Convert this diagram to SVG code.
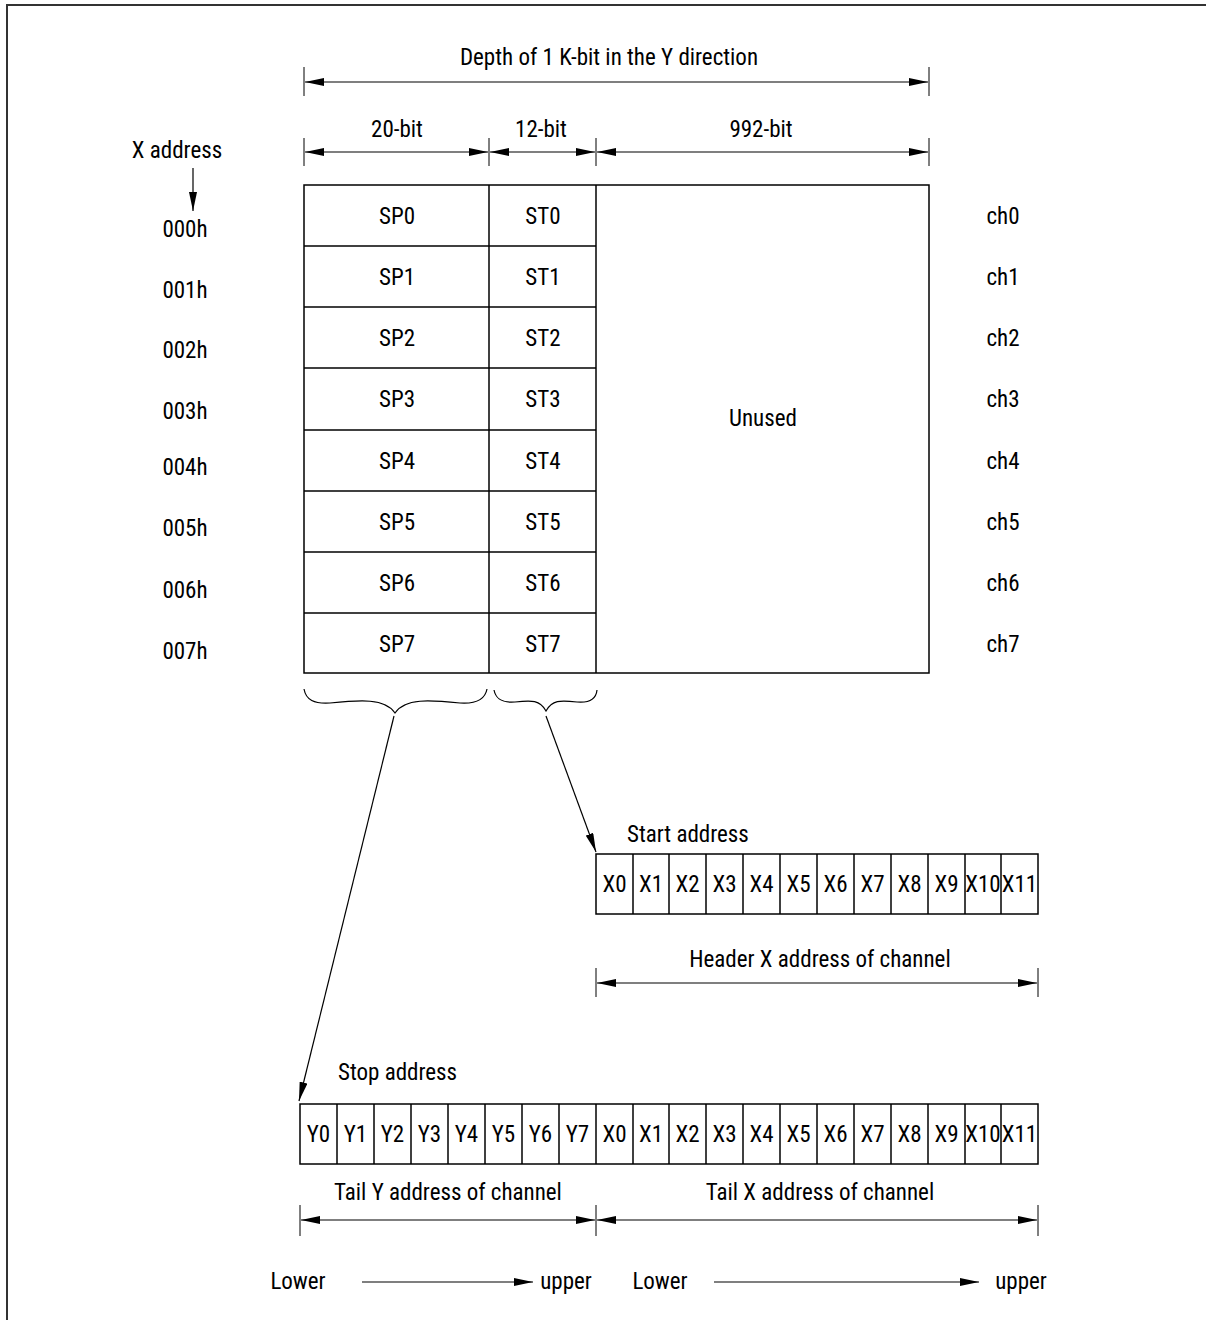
<svg xmlns="http://www.w3.org/2000/svg" width="1206" height="1320" viewBox="0 0 1206 1320">
<defs>
<marker id="ah" viewBox="0 0 19 8" refX="19" refY="4" markerWidth="19" markerHeight="8" markerUnits="userSpaceOnUse" orient="auto-start-reverse"><path d="M0,0 L19,4 L0,8 z" fill="#000"/></marker>
<style>
text{font-family:"Liberation Sans Narrow","Roboto Condensed","DejaVu Sans Condensed",sans-serif;font-size:23px;fill:#000;text-anchor:middle;dominant-baseline:central}
.box{fill:#fff;stroke:#000;stroke-width:1.5}
.ln{stroke:#000;stroke-width:1.2;fill:none}
.dim{stroke:#000;stroke-width:1.2;fill:none;marker-start:url(#ah);marker-end:url(#ah)}
.arr{stroke:#000;stroke-width:1.2;fill:none;marker-end:url(#ah)}
.tk{stroke:#000;stroke-width:1}
.st{text-anchor:start}
</style>
</defs>
<rect width="1206" height="1320" fill="#fff"/>
<path d="M7,1320 V5 H1206" fill="none" stroke="#333" stroke-width="2"/>

<g id="dimensions">
<text x="609" y="57">Depth of 1 K-bit in the Y direction</text>
<line class="tk" x1="304" y1="67" x2="304" y2="96"/>
<line class="tk" x1="929" y1="67" x2="929" y2="96"/>
<line class="dim" x1="305" y1="82" x2="928" y2="82"/>
<text x="397" y="129">20-bit</text>
<text x="541" y="129">12-bit</text>
<text x="761" y="129">992-bit</text>
<line class="tk" x1="304" y1="138" x2="304" y2="166"/>
<line class="tk" x1="489" y1="138" x2="489" y2="166"/>
<line class="tk" x1="596" y1="138" x2="596" y2="166"/>
<line class="tk" x1="929" y1="138" x2="929" y2="166"/>
<line class="dim" x1="305" y1="152" x2="488" y2="152"/>
<line class="dim" x1="490" y1="152" x2="595" y2="152"/>
<line class="dim" x1="597" y1="152" x2="928" y2="152"/>
</g>

<g id="x-address">
<text x="177" y="150">X address</text>
<line class="arr" x1="193" y1="168" x2="193" y2="211"/>
<text x="185" y="229">000h</text>
<text x="185" y="290">001h</text>
<text x="185" y="350">002h</text>
<text x="185" y="411">003h</text>
<text x="185" y="467">004h</text>
<text x="185" y="528">005h</text>
<text x="185" y="590">006h</text>
<text x="185" y="651">007h</text>
</g>

<g id="table">
<rect class="box" x="304" y="185" width="625" height="488"/>
<line class="ln" x1="489" y1="185" x2="489" y2="673" style="stroke-width:1.5"/>
<line class="ln" x1="596" y1="185" x2="596" y2="673" style="stroke-width:1.5"/>
<g class="ln" style="stroke-width:1.5">
<line x1="304" y1="246" x2="596" y2="246"/>
<line x1="304" y1="307" x2="596" y2="307"/>
<line x1="304" y1="368" x2="596" y2="368"/>
<line x1="304" y1="430" x2="596" y2="430"/>
<line x1="304" y1="491" x2="596" y2="491"/>
<line x1="304" y1="552" x2="596" y2="552"/>
<line x1="304" y1="613" x2="596" y2="613"/>
</g>
<text x="397" y="216">SP0</text><text x="543" y="216">ST0</text>
<text x="397" y="277">SP1</text><text x="543" y="277">ST1</text>
<text x="397" y="338">SP2</text><text x="543" y="338">ST2</text>
<text x="397" y="399">SP3</text><text x="543" y="399">ST3</text>
<text x="397" y="461">SP4</text><text x="543" y="461">ST4</text>
<text x="397" y="522">SP5</text><text x="543" y="522">ST5</text>
<text x="397" y="583">SP6</text><text x="543" y="583">ST6</text>
<text x="397" y="644">SP7</text><text x="543" y="644">ST7</text>
<text x="763" y="418">Unused</text>
</g>

<g id="channels">
<text x="1003" y="216">ch0</text>
<text x="1003" y="277">ch1</text>
<text x="1003" y="338">ch2</text>
<text x="1003" y="399">ch3</text>
<text x="1003" y="461">ch4</text>
<text x="1003" y="522">ch5</text>
<text x="1003" y="583">ch6</text>
<text x="1003" y="644">ch7</text>
</g>

<g id="braces">
<path class="ln" d="M304,689 C306,700 314,704 330,703 C360,700 385,698 395,713 C405,698 430,700 460,703 C476,704 485,700 487,689"/>
<path class="ln" d="M494,690 C496,700 503,703 515,702 C532,700 540,700 546,711 C552,700 560,700 577,702 C589,703 596,700 597,690"/>
</g>

<g id="connectors">
<line class="arr" x1="394" y1="716" x2="299" y2="1101"/>
<line class="arr" x1="546" y1="716" x2="596" y2="852"/>
</g>

<g id="start-address">
<text class="st" x="627" y="834">Start address</text>
<rect class="box" x="596" y="854" width="442" height="60"/>
<g class="ln" style="stroke-width:1.5">
<line x1="633" y1="854" x2="633" y2="914"/><line x1="669" y1="854" x2="669" y2="914"/>
<line x1="706" y1="854" x2="706" y2="914"/><line x1="743" y1="854" x2="743" y2="914"/>
<line x1="780" y1="854" x2="780" y2="914"/><line x1="817" y1="854" x2="817" y2="914"/>
<line x1="854" y1="854" x2="854" y2="914"/><line x1="891" y1="854" x2="891" y2="914"/>
<line x1="928" y1="854" x2="928" y2="914"/><line x1="965" y1="854" x2="965" y2="914"/>
<line x1="1001" y1="854" x2="1001" y2="914"/>
</g>
<text x="614.5" y="884">X0</text><text x="651" y="884">X1</text><text x="687.5" y="884">X2</text>
<text x="724.5" y="884">X3</text><text x="761.5" y="884">X4</text><text x="798.5" y="884">X5</text>
<text x="835.5" y="884">X6</text><text x="872.5" y="884">X7</text><text x="909.5" y="884">X8</text>
<text x="946.5" y="884">X9</text><text x="983" y="884">X10</text><text x="1019.5" y="884">X11</text>
<text x="820" y="959">Header X address of channel</text>
<line class="tk" x1="596" y1="968" x2="596" y2="997"/>
<line class="tk" x1="1038" y1="968" x2="1038" y2="997"/>
<line class="dim" x1="597" y1="983" x2="1037" y2="983"/>
</g>

<g id="stop-address">
<text class="st" x="338" y="1072">Stop address</text>
<rect class="box" x="300" y="1104" width="738" height="60"/>
<g class="ln" style="stroke-width:1.5">
<line x1="337" y1="1104" x2="337" y2="1164"/><line x1="374" y1="1104" x2="374" y2="1164"/>
<line x1="411" y1="1104" x2="411" y2="1164"/><line x1="448" y1="1104" x2="448" y2="1164"/>
<line x1="485" y1="1104" x2="485" y2="1164"/><line x1="522" y1="1104" x2="522" y2="1164"/>
<line x1="559" y1="1104" x2="559" y2="1164"/><line x1="596" y1="1104" x2="596" y2="1164"/>
<line x1="633" y1="1104" x2="633" y2="1164"/><line x1="669" y1="1104" x2="669" y2="1164"/>
<line x1="706" y1="1104" x2="706" y2="1164"/><line x1="743" y1="1104" x2="743" y2="1164"/>
<line x1="780" y1="1104" x2="780" y2="1164"/><line x1="817" y1="1104" x2="817" y2="1164"/>
<line x1="854" y1="1104" x2="854" y2="1164"/><line x1="891" y1="1104" x2="891" y2="1164"/>
<line x1="928" y1="1104" x2="928" y2="1164"/><line x1="965" y1="1104" x2="965" y2="1164"/>
<line x1="1001" y1="1104" x2="1001" y2="1164"/>
</g>
<text x="318.5" y="1134">Y0</text><text x="355.5" y="1134">Y1</text><text x="392.5" y="1134">Y2</text>
<text x="429.5" y="1134">Y3</text><text x="466.5" y="1134">Y4</text><text x="503.5" y="1134">Y5</text>
<text x="540.5" y="1134">Y6</text><text x="577.5" y="1134">Y7</text>
<text x="614.5" y="1134">X0</text><text x="651" y="1134">X1</text><text x="687.5" y="1134">X2</text>
<text x="724.5" y="1134">X3</text><text x="761.5" y="1134">X4</text><text x="798.5" y="1134">X5</text>
<text x="835.5" y="1134">X6</text><text x="872.5" y="1134">X7</text><text x="909.5" y="1134">X8</text>
<text x="946.5" y="1134">X9</text><text x="983" y="1134">X10</text><text x="1019.5" y="1134">X11</text>
<text x="448" y="1192">Tail Y address of channel</text>
<text x="820" y="1192">Tail X address of channel</text>
<line class="tk" x1="300" y1="1205" x2="300" y2="1236"/>
<line class="tk" x1="596" y1="1205" x2="596" y2="1236"/>
<line class="tk" x1="1038" y1="1205" x2="1038" y2="1236"/>
<line class="dim" x1="301" y1="1220" x2="595" y2="1220"/>
<line class="dim" x1="597" y1="1220" x2="1037" y2="1220"/>
</g>

<g id="order">
<text x="298" y="1281">Lower</text>
<line class="arr" x1="362" y1="1282" x2="533" y2="1282"/>
<text x="566" y="1281">upper</text>
<text x="660" y="1281">Lower</text>
<line class="arr" x1="714" y1="1282" x2="979" y2="1282"/>
<text x="1021" y="1281">upper</text>
</g>
</svg>
